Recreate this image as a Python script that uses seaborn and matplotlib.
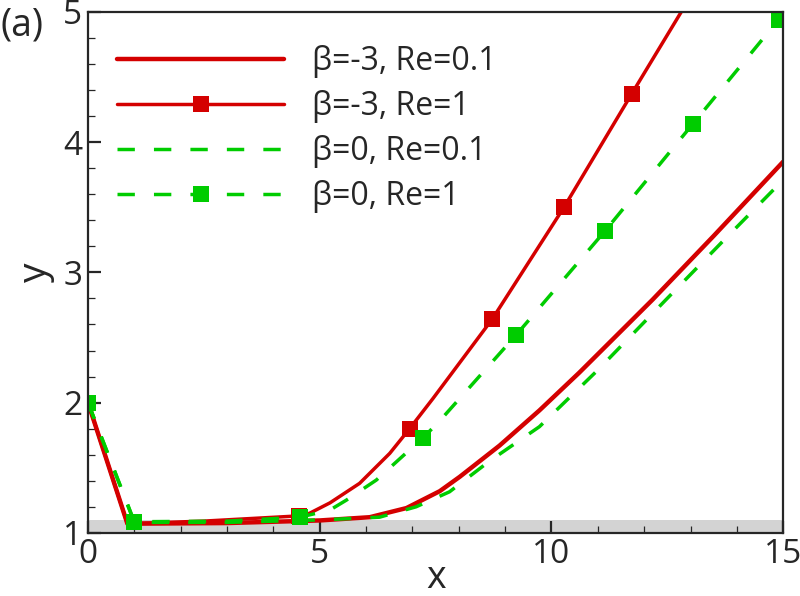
import numpy as np
import pandas as pd
import matplotlib
matplotlib.use("Agg")
import matplotlib.pyplot as plt
import seaborn as sns
from matplotlib.ticker import MultipleLocator

# curves
x_r01 = [0, 0.85, 3.0, 5.0, 6.08, 6.87, 7.59, 8.02, 8.88, 9.74, 10.6, 12.18, 13.5, 15.0]
y_r01 = [2.0, 1.07, 1.075, 1.095, 1.12, 1.19, 1.32, 1.43, 1.67, 1.94, 2.23, 2.79, 3.28, 3.85]

x_r1 = [0, 0.85, 2.5, 4.55, 4.78, 5.22, 5.86, 6.51, 6.94, 7.44, 8.72, 10.27, 11.73, 12.8]
y_r1 = [2.0, 1.07, 1.09, 1.13, 1.15, 1.23, 1.38, 1.61, 1.80, 2.03, 2.64, 3.5, 4.37, 5.0]
mark_r1 = [0, 3, 8, 10, 11, 12]

x_g01 = [0, 1.0, 3.0, 5.07, 6.29, 7.08, 7.8, 8.66, 9.74, 11.0, 12.47, 13.7, 15.0]
y_g01 = [2.0, 1.08, 1.08, 1.10, 1.12, 1.20, 1.315, 1.55, 1.815, 2.25, 2.79, 3.24, 3.71]

x_g1 = [0, 1.0, 3.0, 4.57, 5.22, 5.57, 6.22, 7.01, 7.23, 7.59, 9.24, 11.16, 13.05, 14.9]
y_g1 = [2.0, 1.085, 1.09, 1.12, 1.175, 1.25, 1.405, 1.66, 1.73, 1.86, 2.52, 3.32, 4.14, 4.94]
mark_g1 = [0, 1, 3, 8, 10, 11, 12, 13]

labels = ["β=-3, Re=0.1", "β=-3, Re=1", "β=0, Re=0.1", "β=0, Re=1"]

red = "#d40000"
green = "#00cc00"

sns.set_style("ticks")
plt.rcParams["font.family"] = ["Open Sans", "DejaVu Sans"]

fig = plt.figure(figsize=(8, 5.96), dpi=100)
ax = fig.add_axes([0.11, 0.106, 0.869, 0.874])

ax.axhspan(1.0, 1.1, color="#d3d3d3", zorder=0, lw=0)

sns.lineplot(x=x_r01, y=y_r01, ax=ax, color=red, lw=3.2, sort=False,
             label=labels[0])
sns.lineplot(x=x_r1, y=y_r1, ax=ax, color=red, lw=2.5, sort=False,
             marker="s", markersize=11, markeredgewidth=0,
             markevery=mark_r1, label=labels[1])
sns.lineplot(x=x_g01, y=y_g01, ax=ax, color=green, lw=2.5, sort=False,
             dashes=(5, 5.5), label=labels[2])
sns.lineplot(x=x_g1, y=y_g1, ax=ax, color=green, lw=2.5, sort=False,
             dashes=(5, 5.5), marker="s", markersize=11, markeredgewidth=0,
             markevery=mark_g1, label=labels[3])

ax.set_xlim(0, 15)
ax.set_ylim(1, 5)
ax.xaxis.set_major_locator(MultipleLocator(5))
ax.xaxis.set_minor_locator(MultipleLocator(1))
ax.yaxis.set_major_locator(MultipleLocator(1))
ax.yaxis.set_minor_locator(MultipleLocator(0.2))
ax.tick_params(which="both", direction="in", labelsize=24, top=False, right=False)
ax.tick_params(which="major", length=9, width=1.6, pad=4)
ax.tick_params(which="minor", length=5, width=0.9)
for s in ax.spines.values():
    s.set_linewidth(1.6)
    s.set_visible(True)

ax.set_xlabel("x", fontsize=27, labelpad=-9)
ax.set_ylabel("y", fontsize=28, labelpad=6)

leg = ax.legend(loc="upper left", frameon=False, fontsize=23,
                handlelength=5.25, handletextpad=0.85, labelspacing=0.37,
                bbox_to_anchor=(0.0, 0.991))

fig.text(0.0, 0.957, "(a)", fontsize=27, va="center", ha="left")

fig.savefig("out.png", dpi=100)
